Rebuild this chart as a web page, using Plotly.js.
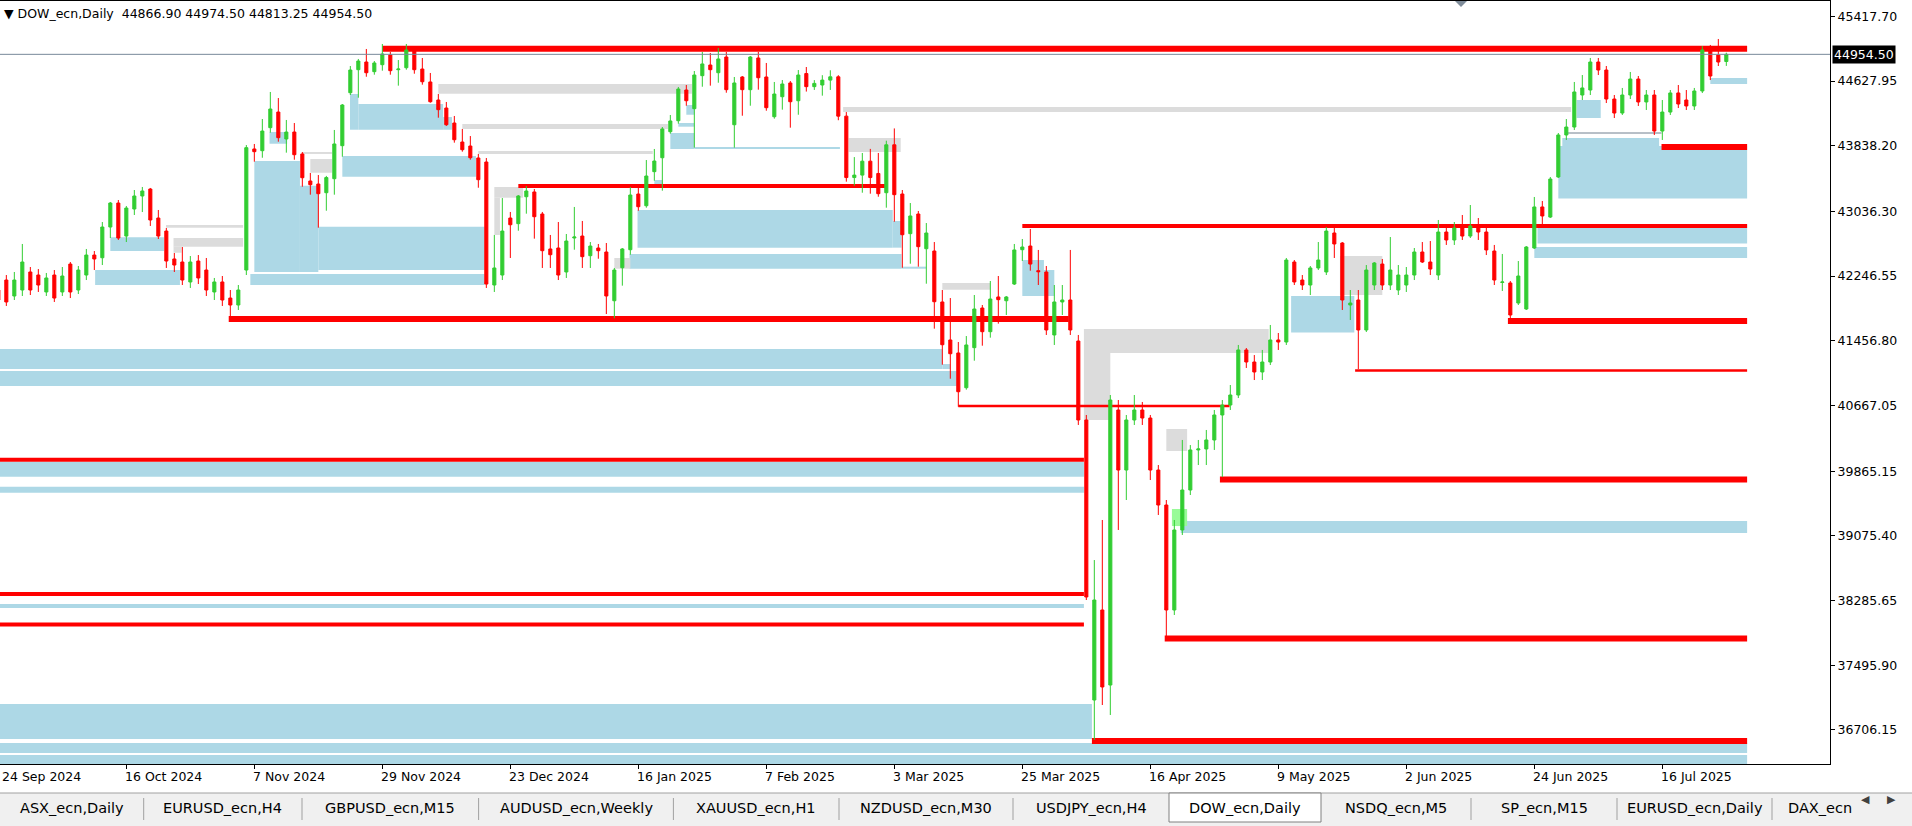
<!DOCTYPE html>
<html><head><meta charset="utf-8">
<script src="https://cdn.plot.ly/plotly-3.0.1.min.js"></script>
<style>html,body{margin:0;padding:0;background:#fff;overflow:hidden}#chart{width:1912px;height:826px}</style>
</head><body><div id="chart"></div>
<script>
// ---------------- DATA ----------------
const symbolName = 'DOW_ecn,Daily';
const opens = [42077,42199,42004,42077,42297,42260,42053,42260,42053,42394,42077,42260,42504,42471,42846,43139,42736,43066,43225,43310,42956,42797,42456,42419,42175,42431,42321,42053,42175,41979,41894,42321,43799,43778,44059,44250,43921,44006,43738,43408,43371,43265,43436,43839,44486,44767,44861,44743,44828,44946,44767,44791,44995,44775,44617,44397,44299,44116,43884,43835,43689,43640,42138,42260,42956,42887,43216,43274,43005,42578,42590,42297,42712,42736,42496,42590,42541,41946,42349,42569,43249,43106,43522,43692,44010,44144,44519,44291,44694,44824,44730,44922,44095,44678,44523,44910,44678,44193,44437,44605,44388,44720,44560,44580,44640,44680,44200,43450,43480,43650,43500,43265,43850,43249,42765,43005,42581,42553,41931,41467,41308,40884,41373,41857,41568,41992,41946,42150,42569,42614,42313,42297,41528,41931,41955,41454,40490,37071,38170,37254,40612,39879,40490,40612,40514,39879,39452,38170,39147,39635,40124,40136,40246,40551,40673,40795,41345,41198,41076,41198,41467,41442,42419,42199,42138,42346,42297,42773,42651,41894,41955,41589,42138,42394,42138,42077,42138,42260,42541,42419,42260,42785,42688,42834,42736,42859,42785,42553,42169,42163,41918,41845,42590,43091,42968,43457,43970,44067,44458,44519,44861,44763,44409,44238,44458,44653,44373,44458,44018,44250,44483,44397,44324,44507,45008,44946,44866.90];
const highs = [42138,42260,42297,42639,42358,42333,42285,42321,42358,42419,42370,42578,42553,42907,43152,43176,43103,43298,43335,43323,43054,42834,42529,42602,42492,42504,42468,42224,42248,42077,42138,43847,43860,44165,44495,44421,44153,44116,43762,43506,43481,43470,44031,44348,44812,44898,45020,44873,45081,44983,44885,45081,45056,44910,44727,44470,44373,44202,44043,43957,43738,43689,42749,43200,43030,43237,43347,43310,43030,42749,42907,42761,43091,42920,42663,42639,42651,42346,42590,43335,43335,43664,43799,44067,44214,44556,44580,44751,44983,44971,45032,44983,44678,44690,44934,44983,44849,44617,44641,44629,44763,44800,44640,44700,44760,44700,44250,43700,43750,43800,43750,43900,44050,43298,43139,43042,42895,42663,42077,41979,41442,41515,42016,41894,42187,42248,42004,42639,42700,42822,42566,42370,42138,42138,42566,41528,40551,38780,39269,40795,40734,40551,40795,40710,40551,39940,39513,39269,40246,40184,40246,40368,40612,40734,40917,41406,41369,41283,41345,41650,41552,42468,42443,42260,42370,42663,42846,42846,42663,42077,42077,42382,42419,42456,42724,42382,42358,42590,42663,42675,42932,42871,42907,42993,43115,42956,42871,42627,42517,42187,42431,42614,43213,43164,43457,43994,44165,44617,44702,44910,44910,44812,44458,44544,44739,44690,44519,44519,44397,44519,44580,44519,44544,45056,45069,45142,44974.50];
const lows = [41894,41882,41955,42004,42016,42053,42004,41931,42004,41979,42028,42199,42321,42382,42712,42688,42663,42993,43029,42859,42700,42346,42297,42138,42102,42150,42004,41955,41882,41723,41833,42260,43644,43692,43998,43888,43754,43668,43338,43241,42838,43045,43241,43705,44458,44425,44681,44706,44755,44706,44572,44767,44718,44584,44364,44181,44080,43876,43766,43668,43326,42102,42053,42199,42468,42801,43009,42704,42346,42346,42199,42224,42569,42346,42346,42459,41784,41732,42130,42508,43045,43082,43412,43290,43986,44108,44327,43815,44559,44572,44608,44486,43815,44205,44327,44523,44266,44169,44279,44059,44217,44500,44520,44450,44520,44150,43400,43350,43265,43253,43216,43082,42911,42349,42398,42362,42154,41605,41165,40994,40652,40860,41214,41397,41495,41666,41772,42138,42431,42313,42138,41528,41406,41772,41528,40429,38292,36583,37010,36888,39147,39513,40429,40429,39757,39330,37828,38109,39086,39574,39940,39940,40124,39794,40612,40758,41125,40978,40978,41161,41345,41406,42138,42077,42016,42321,42260,42468,41833,41711,41112,41564,42077,42077,42077,42016,42053,42199,42407,42260,42199,42627,42627,42688,42712,42688,42504,42138,42065,41711,41894,41833,42578,42883,42956,43445,43909,44031,44397,44458,44702,44360,44177,44214,44409,44324,44275,43970,43909,44214,44299,44275,44275,44482,44641,44812,44813.25];
const closes = [41955,41931,42199,42419,42077,42138,42224,41979,42248,42053,42321,42504,42456,42846,43139,42712,43078,43225,43286,42932,42736,42431,42382,42199,42419,42224,42077,42175,41955,41894,42077,43815,43766,44018,44287,43937,44006,43729,43448,43363,43253,43450,43860,44336,44763,44873,44730,44849,44959,44755,44775,45008,44767,44620,44376,44279,44095,43912,43790,43692,43424,42150,42346,42797,42874,43225,43286,42972,42557,42508,42260,42675,42724,42484,42614,42557,42004,42321,42578,43237,43094,43469,43652,44043,44141,44531,44388,44702,44837,44767,44898,44523,44605,44523,44922,44669,44303,44470,44592,44376,44702,44560,44600,44640,44680,44200,43450,43480,43650,43450,43253,43850,43241,42752,42981,42606,42773,41934,41409,41299,40835,41406,41845,41568,41967,41959,41992,42566,42602,42394,42301,41589,41931,41955,41589,40490,38329,38292,37230,40734,39879,40490,40612,40514,39879,39452,38170,39147,39635,40124,40136,40246,40551,40673,40795,41345,41198,41076,41198,41467,41442,42443,42175,42138,42346,42443,42797,42639,41955,41918,41589,42321,42407,42138,42321,42260,42260,42541,42419,42333,42785,42688,42834,42736,42859,42785,42566,42199,42175,41772,42248,42602,43091,42981,43432,43970,44067,44495,44544,44861,44763,44409,44238,44458,44653,44373,44458,44018,44250,44483,44348,44324,44507,45008,44690,44861,44954.50];

// date labels on the time scale (bar number where each label sits)
const dateLabels = ['24 Sep 2024','16 Oct 2024','7 Nov 2024','29 Nov 2024','23 Dec 2024','16 Jan 2025','7 Feb 2025','3 Mar 2025','25 Mar 2025','16 Apr 2025','9 May 2025','2 Jun 2025','24 Jun 2025','16 Jul 2025'];
const dateLabelBars = [1,17,33,49,65,81,97,113,129,145,161,177,193,209];

// price scale labels
const priceTicks = [45417.70,44627.95,43838.20,43036.30,42246.55,41456.80,40667.05,39865.15,39075.40,38285.65,37495.90,36706.15];

// supply / demand zones (bar numbers, price bounds, kind)
const zoneFrom = [15,13.1,32.5,33,38.7,41,34.9,44,46,44.96,56.6,80.9,112.8,79.9,113.9,87,86,85,88,83,0,119,0,0,0,0,0,0,0,162.6,129,131.7,196,196.5,193.4,193,198.3,215,148.8,
                  21.96,22.9,22.9,56,59,61,63,63,40,39,78,119,168.7,136.7,136.7,106.6,107.3,147,
                  147.7];
const zoneTo   = [21.7,23.7,61.8,38.7,41,61.8,37.1,60.7,56.6,46,57.7,112.8,113.9,113.9,117,88,88,88,106.2,84,119,120,120.8,136.7,136.7,136.7,137.7,219.6,219.6,170.5,131.7,133,219.6,208.6,219.6,219.6,201.3,219.6,219.6,
                  31.6,31.6,23.9,87.7,84.7,82.8,66.6,63.7,42.7,42.7,80,125,174,159.8,140,197.6,113.8,149.6,
                  149.6];
const zoneHi   = [42720,42321,42272,43652,43351,42850,44006,43713,44348,44470,44189,43054,42920,42517,42362,44336,44116,43994,43823,43420,41357,41173,41088,39981,39676,38243,37022,36546,36400,42004,42443,42321,43835,43933,42871,42602,44397,44666,39257,
                  42871,42712,42606,44592,44104,43774,43335,43204,43677,43762,42468,42162,42492,41601,41308,44312,43933,40380,
                  39403];
const zoneLo   = [42553,42138,42138,42297,42297,42321,43863,43460,44034,44034,44034,42594,42594,42337,42337,44217,44071,43799,43799,43338,41112,41112,40905,39798,39602,38194,36595,36424,36280,41558,42004,42004,43194,43835,42645,42468,44177,44592,39110,
                  42838,42606,42532,44474,44043,43738,43204,42749,43509,43738,42337,42081,42016,41308,40490,44250,43762,40111,
                  39195];
const zoneKind = ['demand','demand','demand','demand','demand','demand','demand','demand','demand','demand','demand','demand','demand','demand','demand','demand','demand','demand','demand','demand','demand','demand','demand','demand','demand','demand','demand','demand','demand','demand','demand','demand','demand','demand','demand','demand','demand','demand','demand',
                  'neutral','neutral','neutral','neutral','neutral','neutral','neutral','neutral','neutral','neutral','neutral','neutral','neutral','neutral','neutral','neutral','neutral','neutral',
                  'fresh'];

// horizontal levels (bar numbers and price)
const levelFrom  = [49,66,129,29.8,189.7,170.6,121,0,153.7,0,0,146.8,137.7,208.9];
const levelTo    = [219.6,112,219.6,134.8,219.6,219.6,154.9,136.7,219.6,136.7,136.7,219.6,219.6,219.6];
const levelPrice = [45023,43347,42859,41723,41699,41094,40661,40005,39763,38365,37993,37822,36570,43823];
const levelWeight= ['heavy','mid','mid','heavy','heavy','thin','thin','mid','heavy','mid','mid','heavy','heavy','heavy'];

// thin marker lines
const markFrom = [197.1];
const markTo = [208.9];
const markPrice = [43994];

const tabNames = ['ASX_ecn,Daily','EURUSD_ecn,H4','GBPUSD_ecn,M15','AUDUSD_ecn,Weekly','XAUUSD_ecn,H1','NZDUSD_ecn,M30','USDJPY_ecn,H4','DOW_ecn,Daily','NSDQ_ecn,M5','SP_ecn,M15','EURUSD_ecn,Daily','DAX_ecn'];
const activeTab = 'DOW_ecn,Daily';

// ---------------- STYLE / LAYOUT ----------------
const W = 1912, H = 826;
const M = {l:0, r:82, t:1, b:62};
const PW = W - M.l - M.r, PH = H - M.t - M.b;
const xRange = [1.209, 229.96];
const yRange = [36289.6, 45605.8];
const kindColor = {demand:'#ADD8E6', neutral:'#DCDCDC', fresh:'#98FB98'};
const weightPx = {heavy:6, mid:4, thin:2.5};
const FONT = 'DejaVu Sans, Verdana, sans-serif';
const px = x => (x - M.l) / PW;
const py = y => 1 - (y - M.t) / PH;

const bars = opens.map((_, k) => k + 1);
const last = opens.length - 1;

const shapes = [];
zoneFrom.forEach((f, k) => {
  shapes.push({type:'rect', xref:'x', yref:'y', layer:'below', x0:f, x1:zoneTo[k], y0:zoneLo[k], y1:zoneHi[k],
    fillcolor:kindColor[zoneKind[k]], line:{width:0}});
});
levelFrom.forEach((f, k) => {
  shapes.push({type:'line', xref:'x', yref:'y', layer:'below', x0:f, x1:levelTo[k], y0:levelPrice[k], y1:levelPrice[k],
    line:{color:'#FF0000', width:weightPx[levelWeight[k]]}});
});
markFrom.forEach((f, k) => {
  shapes.push({type:'line', xref:'x', yref:'y', layer:'below', x0:f, x1:markTo[k], y0:markPrice[k], y1:markPrice[k],
    line:{color:'#708090', width:1}});
});
// bid line
shapes.push({type:'line', xref:'paper', yref:'y', x0:0, x1:1, y0:closes[last], y1:closes[last], line:{color:'#778899', width:1}});
// chart shift marker
shapes.push({type:'path', xref:'paper', yref:'paper', path:`M ${px(1455)} ${py(1)} L ${px(1467)} ${py(1)} L ${px(1461)} ${py(7)} Z`, fillcolor:'#7F8C9A', line:{width:0}});

// tab bar
shapes.push({type:'rect', xref:'paper', yref:'paper', x0:px(0), x1:px(W), y0:py(793), y1:py(826), fillcolor:'#F0F0F0', line:{width:0}});
shapes.push({type:'line', xref:'paper', yref:'paper', x0:px(0), x1:px(W), y0:py(793), y1:py(793), line:{color:'#A0A0A0', width:1}});
const tabEdges = [0,143.7,302,478.6,673.4,839,1013,1169,1321,1471,1617,1772,1860];
const annotations = [];
tabNames.forEach((name, k) => {
  const a = tabEdges[k], b = tabEdges[k+1];
  if (name === activeTab) {
    shapes.push({type:'rect', xref:'paper', yref:'paper', x0:px(a), x1:px(b), y0:py(793), y1:py(822), fillcolor:'#FFFFFF', line:{color:'#808080', width:1}});
  } else if (k < tabNames.length - 1 && tabNames[k+1] !== activeTab) {
    shapes.push({type:'line', xref:'paper', yref:'paper', x0:px(b), x1:px(b), y0:py(798), y1:py(820), line:{color:'#A0A0A0', width:1}});
  }
  annotations.push({xref:'paper', yref:'paper', x:px(k === tabNames.length - 1 ? a + 14 : (a + b) / 2), xanchor: k === tabNames.length - 1 ? 'left' : 'center',
    y:py(808), yanchor:'middle', text:name, showarrow:false, font:{family:FONT, size:14.5, color:'#000'}});
});
shapes.push({type:'rect', xref:'paper', yref:'paper', x0:px(1860), x1:px(W), y0:py(794), y1:py(826), fillcolor:'#F0F0F0', line:{width:0}});
annotations.push({xref:'paper', yref:'paper', x:px(1872), y:py(808), text:'◀', showarrow:false, font:{family:FONT, size:11, color:'#404040'}});
annotations.push({xref:'paper', yref:'paper', x:px(1898), y:py(808), text:'▶', showarrow:false, font:{family:FONT, size:11, color:'#404040'}});

// date labels
dateLabels.forEach((t, k) => {
  const b = dateLabelBars[k];
  const inside = b >= xRange[0];
  annotations.push({xref:'x', yref:'paper', x: inside ? b : xRange[0], xanchor:'left', xshift: inside ? -3.5 : 0,
    y:0, yanchor:'top', yshift:-3, text:t, showarrow:false, font:{family:FONT, size:12.5, color:'#000'}});
});
// header
annotations.push({xref:'paper', yref:'paper', x:px(2), xanchor:'left', y:py(4), yanchor:'top',
  text:'▼ ' + symbolName + '  ' + [opens[last], highs[last], lows[last], closes[last]].map(v => v.toFixed(2)).join(' '),
  showarrow:false, font:{family:FONT, size:12.5, color:'#000'}});
// bid label
annotations.push({xref:'paper', yref:'y', x:1, xanchor:'left', xshift:2, y:closes[last], yanchor:'middle',
  text:closes[last].toFixed(2), showarrow:false, bgcolor:'#000', borderpad:1, font:{family:FONT, size:12.5, color:'#FFF'}});

const trace = {
  type:'candlestick', x:bars, open:opens, high:highs, low:lows, close:closes,
  increasing:{line:{color:'#32CD32', width:1}, fillcolor:'#32CD32'},
  decreasing:{line:{color:'#FF0000', width:1}, fillcolor:'#FF0000'},
  whiskerwidth:0, hoverinfo:'skip', showlegend:false
};

const layout = {
  width:W, height:H, margin:M, paper_bgcolor:'#FFFFFF', plot_bgcolor:'#FFFFFF',
  showlegend:false, boxgap:0.45,
  xaxis:{type:'linear', range:xRange, showgrid:false, zeroline:false, showline:true, linecolor:'#000', linewidth:1, mirror:true,
    tickmode:'array', tickvals:dateLabelBars, ticks:'outside', ticklen:4, tickcolor:'#000', showticklabels:false,
    rangeslider:{visible:false}, fixedrange:true},
  yaxis:{side:'right', range:yRange, showgrid:false, zeroline:false, showline:true, linecolor:'#000', linewidth:1,
    tickmode:'array', tickvals:priceTicks, ticktext:priceTicks.map(v => v.toFixed(2)), ticks:'outside', ticklen:4, tickcolor:'#000',
    tickfont:{family:FONT, size:12.5, color:'#000'}, fixedrange:true},
  shapes:shapes, annotations:annotations
};
Plotly.newPlot('chart', [trace], layout, {displayModeBar:false, staticPlot:true});
</script></body></html>
